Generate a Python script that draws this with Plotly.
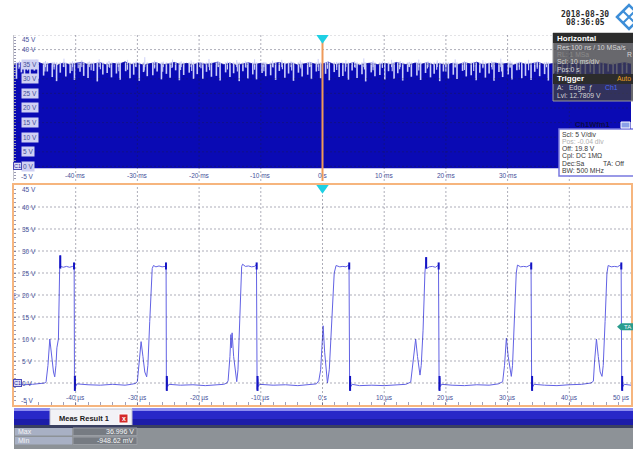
import plotly.graph_objects as go

W, H = 633, 449

# ---------------- data ----------------
# top panel (10 ms/div roll view): envelope top of the dense trace, 1 ms steps
top_env_t = list(range(-50, 51))
top_env_v = [
    35.0, 35.5, 34.7, 35.2, 35.6, 34.8, 35.3, 34.6, 35.4, 34.9,
    35.2, 35.7, 34.8, 35.1, 35.5, 34.7, 35.3, 35.0, 35.8, 34.9,
    35.4, 34.6, 35.2, 35.5, 34.8, 35.1, 35.6, 34.9, 35.3, 34.7,
    35.5, 35.0, 35.2, 35.7, 34.8, 35.4, 34.6, 35.1, 35.5, 34.9,
    35.3, 34.8, 35.2, 35.6, 35.0, 35.4, 34.7, 35.2, 35.5, 34.9,
    35.1, 35.7, 34.8, 35.3, 35.0, 35.5, 34.6, 35.2, 35.4, 34.8,
    35.3, 34.9, 35.6, 35.1, 34.7, 35.4, 35.0, 35.5, 34.8, 35.2,
    34.6, 35.3, 34.9, 35.5, 35.1, 35.7, 34.8, 35.2, 35.4, 35.0,
    35.3, 34.7, 35.5, 34.9, 35.2, 35.6, 34.8, 35.1, 35.4, 35.0,
    35.2, 35.5, 34.8, 35.3, 34.9, 35.4, 35.1, 34.7, 35.2, 35.5,
    35.0]
top_floor = -0.6

# deep light dips inside the dense envelope (ms, lowest V)
dip_t = [
    -49.6, -48.8, -48.3, -47.4, -46.7, -46.1, -45.2, -44.6, -43.8, -43.1,
    -42.5, -41.6, -40.9, -40.2, -39.3, -38.7, -38.0, -37.1, -36.5, -35.6,
    -34.9, -34.2, -33.4, -32.8, -31.9, -31.2, -30.6, -29.7, -29.0, -28.4,
    -27.5, -26.8, -26.1, -25.3, -24.7, -23.8, -23.2, -22.5, -21.6, -20.9,
    -20.3, -19.4, -18.8, -18.0, -17.2, -16.6, -15.7, -15.0, -14.4, -13.5,
    -12.9, -12.1, -11.3, -10.7, -9.8, -9.2, -8.4, -7.6, -7.0, -6.1,
    -5.5, -4.7, -3.9, -3.3, -2.4, -1.8, -1.0, -0.3, 0.5, 1.1,
    1.9, 2.7, 3.3, 4.2, 4.8, 5.6, 6.4, 7.0, 7.9, 8.5,
    9.3, 10.1, 10.7, 11.6, 12.2, 13.0, 13.8, 14.4, 15.3, 15.9,
    16.7, 17.5, 18.1, 19.0, 19.6, 20.4, 21.2, 21.8, 22.7, 23.3,
    24.1, 24.9, 25.5, 26.4, 27.0, 27.8, 28.6, 29.2, 30.1, 30.7,
    31.5, 32.3, 32.9, 33.8, 34.4, 35.2, 36.0, 36.6, 37.5, 38.1,
    38.9, 39.7, 40.3, 41.2, 41.8, 42.6, 43.4, 44.0, 44.9, 45.5,
    46.3, 47.1, 47.7, 48.6, 49.3]
dip_v = [
    30.0, 32.2, 29.4, 31.6, 32.8, 29.9, 31.1, 32.5, 30.6, 29.2,
    32.1, 30.8, 31.9, 29.6, 32.4, 31.0, 30.3, 32.7, 29.1, 31.5,
    32.0, 30.5, 31.8, 29.7, 32.6, 30.2, 31.4, 29.3, 32.3, 30.9,
    31.2, 32.5, 29.8, 31.7, 30.4, 32.9, 29.5, 31.3, 32.1, 30.0,
    31.6, 29.9, 32.4, 30.7, 31.0, 29.4, 32.2, 30.6, 31.9, 29.2,
    32.6, 30.1, 31.5, 29.8, 32.0, 30.9, 31.2, 29.6, 32.7, 30.4,
    31.8, 29.3, 32.1, 30.8, 31.4, 29.9, 32.5, 30.2, 31.7, 29.5,
    32.3, 30.6, 31.0, 29.7, 32.8, 30.3, 31.6, 29.1, 32.2, 30.9,
    31.3, 29.8, 32.6, 30.0, 31.9, 29.4, 32.4, 30.7, 31.1, 29.6,
    32.0, 30.5, 31.7, 29.2, 32.5, 30.1, 31.4, 29.9, 32.7, 30.8,
    31.2, 29.5, 32.1, 30.4, 31.8, 29.3, 32.3, 30.6, 31.5, 29.8,
    32.9, 30.2, 31.0, 29.6, 32.4, 30.9, 31.6, 29.4, 32.0, 30.3,
    31.9, 29.7, 32.6, 30.0, 31.3, 29.2, 32.2, 30.7, 31.8, 29.9,
    32.5, 30.4, 31.1, 29.6, 32.0]
# shallow light dips (ms, lowest V)
dip2_t = [
    -49.2, -47.8, -46.4, -45.0, -43.5, -42.0, -40.6, -39.6, -37.5, -36.0,
    -34.5, -33.0, -31.6, -30.3, -28.9, -27.2, -25.9, -24.4, -23.0, -21.2,
    -19.7, -18.3, -16.9, -15.4, -13.8, -12.4, -11.0, -9.5, -8.0, -6.5,
    -5.0, -3.5, -2.0, -0.6, 0.8, 2.3, 3.7, 5.3, 6.8, 8.2,
    9.7, 11.3, 12.5, 14.0, 15.6, 17.0, 18.5, 20.0, 21.5, 23.0,
    24.5, 26.0, 27.5, 29.0, 30.4, 31.9, 33.4, 34.8, 36.3, 37.8]
dip2_v = [
    33.4, 32.8, 33.9, 32.5, 33.2, 34.0, 32.7, 33.6, 32.9, 33.3,
    33.8, 32.6, 33.1, 34.1, 32.8, 33.5, 32.4, 33.7, 33.0, 32.7,
    33.6, 32.9, 34.0, 33.2, 32.5, 33.8, 33.1, 32.6, 33.9, 33.3,
    32.8, 33.5, 34.1, 32.7, 33.4, 33.0, 32.5, 33.8, 33.2, 32.9,
    33.7, 32.6, 33.3, 34.0, 32.8, 33.5, 33.1, 32.4, 33.9, 33.0,
    32.7, 33.6, 33.2, 32.5, 33.8, 33.1, 32.9, 33.4, 34.0, 32.6]
# light tips sticking out above the envelope (ms, highest V)
tip_t = [
    -49.1, -47.9, -46.4, -44.9, -43.5, -41.9, -40.5, -39.0, -37.8, -36.2,
    -34.6, -33.1, -31.6, -30.2, -28.8, -27.2, -25.8, -24.3, -22.9, -21.3,
    -19.9, -18.4, -16.9, -15.4, -13.9, -12.5, -11.0, -9.5, -8.1, -6.6,
    -5.1, -3.6, -2.1, -0.7, 0.8, 2.3, 3.8, 5.2, 6.7, 8.2,
    9.7, 11.2, 12.6, 14.1, 15.6, 17.1, 18.6, 20.0, 21.5, 23.0,
    24.5, 26.0, 27.4, 28.9, 30.4, 31.9, 33.4, 34.8, 36.3, 37.8]
tip_v = [
    36.2, 35.9, 36.6, 36.1, 35.8, 36.9, 36.0, 36.4, 35.9, 36.7,
    36.1, 35.8, 36.5, 36.0, 37.4, 36.2, 35.9, 36.6, 36.0, 36.3,
    35.8, 36.8, 36.1, 35.9, 36.4, 36.0, 36.7, 35.8, 36.2, 36.5,
    36.0, 36.3, 35.9, 36.8, 36.1, 35.8, 36.4, 36.0, 37.0, 36.2,
    35.9, 36.5, 36.1, 35.8, 36.6, 36.0, 36.3, 35.9, 36.7, 36.1,
    35.8, 36.4, 36.0, 36.9, 36.2, 35.9, 36.5, 36.1, 35.8, 36.3]
dip_top = 35.6

# bottom panel (10 us/div zoom): waveform vertices (us, V)
wave_t = [
    -50.0, -48.5, -47.0, -45.5, -45.0,
    -44.8, -44.5, -44.2, -43.9, -43.6, -43.4, -43.2, -43.05, -42.8, -42.6, -42.5, -42.45, -42.0, -41.5, -41.0, -40.5, -40.25,
    -40.2, -40.1, -40.0, -39.8, -38.0, -36.0, -34.0, -32.0, -31.0, -30.3,
    -30.0, -29.7, -29.4, -29.1, -28.8, -28.5, -28.3, -28.0, -27.6, -27.4, -27.0, -26.5, -26.0, -25.5, -25.35,
    -25.3, -25.2, -25.1, -24.9, -23.0, -21.0, -19.0, -17.0, -16.0, -15.5,
    -15.3, -15.0, -14.85, -14.75, -14.65, -14.4, -14.1, -13.9, -13.7, -13.4, -13.1, -12.95, -12.5, -12.0, -11.5, -11.0, -10.7,
    -10.6, -10.5, -10.4, -10.2, -8.0, -6.0, -4.0, -2.0, -1.0, -0.6,
    -0.3, -0.1, 0.1, 0.35, 0.6, 0.8, 1.1, 1.5, 1.9, 2.2, 2.8, 3.3, 3.8, 4.3,
    4.4, 4.5, 4.6, 4.8, 6.0, 8.0, 10.0, 12.0, 13.5, 14.3,
    14.6, 15.1, 15.4, 15.6, 15.8, 16.0, 16.3, 16.6, 16.8, 16.85, 17.3, 17.8, 18.3, 18.8,
    18.9, 19.0, 19.1, 19.3, 21.0, 23.0, 25.0, 27.0, 28.5, 29.2,
    29.5, 29.8, 30.1, 30.4, 30.6, 30.8, 31.1, 31.4, 31.6, 32.1, 32.6, 33.1, 33.8,
    33.9, 34.0, 34.1, 34.3, 36.0, 38.0, 40.0, 42.0, 43.5, 43.9,
    44.1, 44.4, 44.7, 45.0, 45.3, 45.5, 45.8, 46.1, 46.3, 46.8, 47.3, 47.8, 48.4,
    48.5, 48.6, 48.7, 48.9, 50.0]
wave_v = [
    -0.2, -0.4, -0.3, -0.2, 0.0,
    0.3, 4.0, 10.0, 6.0, 2.5, 1.4, 4.0, 8.0, 10.0, 26.0, 29.0, 26.5, 26.3, 26.5, 26.3, 26.5, 26.8,
    -1.5, 1.0, -0.8, -0.2, -0.4, -0.5, -0.3, -0.5, -0.3, -0.1,
    0.4, 5.0, 9.4, 6.0, 2.5, 1.4, 4.0, 14.0, 26.0, 26.7, 26.4, 26.6, 26.4, 26.5, 27.0,
    -1.5, 1.2, -0.8, -0.3, -0.5, -0.4, -0.6, -0.4, -0.3, 0.0,
    0.5, 6.0, 11.0, 8.0, 11.4, 6.0, 2.0, 0.3, 3.0, 14.0, 26.5, 27.0, 26.5, 26.6, 26.4, 26.5, 27.0,
    -1.5, 1.0, -0.8, -0.3, -0.5, -0.4, -0.6, -0.4, -0.2, 0.5,
    3.0, 8.0, 13.0, 7.0, 2.0, 0.0, 3.0, 14.0, 25.0, 26.7, 26.4, 26.5, 26.4, 26.8,
    -1.5, 1.2, -0.8, -0.3, -0.6, -0.5, -0.6, -0.4, -0.3, 0.2,
    4.0, 10.0, 6.0, 3.0, 1.8, 4.0, 12.0, 25.0, 28.6, 26.0, 26.4, 26.5, 26.3, 26.8,
    -1.5, 1.2, -0.8, -0.3, -0.5, -0.6, -0.4, -0.5, -0.2, 0.3,
    4.0, 10.2, 6.0, 2.5, 1.5, 4.0, 14.0, 25.0, 26.8, 26.4, 26.5, 26.4, 26.9,
    -1.5, 1.2, -0.8, -0.3, -0.5, -0.6, -0.4, -0.3, 0.0, 0.4,
    5.0, 10.0, 6.0, 2.5, 1.5, 4.0, 14.0, 25.0, 26.7, 26.4, 26.5, 26.4, 26.9,
    -1.5, 1.0, -0.8, -0.3, -0.5]
assert len(wave_t) == len(wave_v)
assert len(dip_t) == len(dip_v)
assert len(dip2_t) == len(dip2_v)
assert len(tip_t) == len(tip_v)

fall_t = [-40.2, -25.3, -10.6, 4.4, 18.9, 33.9, 48.5]
ring_hi = [25.8, 27.4]
ring_lo = [-1.8, 1.6]
start_spike_t = [-42.5, 16.8]
start_spike_v = [29.0, 28.6]

grid_x = [-40, -30, -20, -10, 0, 10, 20, 30, 40]
grid_y = [40, 35, 30, 25, 20, 15, 10, 5, 0]
top_x_ticks = [-40, -30, -20, -10, 0, 10, 20, 30]
top_x_labels = ["-40 ms", "-30 ms", "-20 ms", "-10 ms", "0 s", "10 ms", "20 ms", "30 ms"]
bot_x_ticks = [-40, -30, -20, -10, 0, 10, 20, 30, 40, 50]
bot_x_labels = ["-40 µs", "-30 µs", "-20 µs", "-10 µs", "0 s", "10 µs", "20 µs", "30 µs", "40 µs", "50 µs"]
y_ticks = [45, 40, 35, 30, 25, 20, 15, 10, 5, 0, -5]
y_labels = ["45 V", "40 V", "35 V", "30 V", "25 V", "20 V", "15 V", "10 V", "5 V", "0 V", "-5 V"]

meas_names = ["Max", "Min"]
meas_values = ["36.996 V", "-948.62 mV"]
trigger_level = 12.7809
ch_offset = 19.8
date_text = "2018-08-30"
time_text = "08:36:05"
horiz_lines = ["Res:100 ns / 10 MSa/s", "RL: 1 MSa", "Scl: 10 ms/div", "Pos:0 s"]
ch_lines = ["Scl: 5 V/div", "Pos: -0.04 div", "Off: 19.8 V", "Cpl: DC 1MΩ", "Dec:Sa", "BW: 500 MHz"]

# ---------------- helpers ----------------
def px(x):
    return x / W


def py(y):
    return 1 - y / H


BLUE = "#0a0ab4"
WAVE = "#6262e4"
DARK = "#1414c4"
LBL = "#46509a"
FONT = "Liberation Sans"
LIGHT = "rgba(205,208,248,1)"

fig = go.Figure()

# ---- top panel traces ----
fig.add_trace(go.Scatter(x=[-50, 50], y=[top_floor, top_floor], mode="lines",
                         line=dict(width=0, color=BLUE), xaxis="x", yaxis="y",
                         showlegend=False, hoverinfo="skip"))
fig.add_trace(go.Scatter(x=top_env_t, y=top_env_v, mode="lines",
                         line=dict(width=0.8, color=BLUE), fill="tonexty", fillcolor=BLUE,
                         xaxis="x", yaxis="y", showlegend=False, hoverinfo="skip"))


def segs(ts, lows, top):
    xs, ys = [], []
    for t, v in zip(ts, lows):
        xs += [t, t, None]
        ys += [top, v, None]
    return xs, ys


for ts, vs, top, wdt in ((dip2_t, dip2_v, dip_top, 1.1), (dip_t, dip_v, dip_top, 1.6),
                         (tip_t, tip_v, 34.0, 1.0)):
    xs, ys = segs(ts, vs, top)
    fig.add_trace(go.Scatter(x=xs, y=ys, mode="lines", line=dict(width=wdt, color=LIGHT),
                             xaxis="x", yaxis="y", showlegend=False, hoverinfo="skip"))

# ---- bottom panel traces ----
fig.add_trace(go.Scatter(x=wave_t, y=wave_v, mode="lines", line=dict(width=1.0, color=WAVE),
                         xaxis="x2", yaxis="y2", showlegend=False, hoverinfo="skip"))
rx, ry = [], []
for t in fall_t:
    rx += [t - 0.07, t - 0.07, None, t + 0.07, t + 0.07, None]
    ry += [ring_hi[0], ring_hi[1], None, ring_lo[0], ring_lo[1], None]
for t, v in zip(start_spike_t, start_spike_v):
    rx += [t, t, None]
    ry += [26.0, v, None]
fig.add_trace(go.Scatter(x=rx, y=ry, mode="lines", line=dict(width=2, color=DARK),
                         xaxis="x2", yaxis="y2", showlegend=False, hoverinfo="skip"))

# ---------------- shapes ----------------
shapes = []
GRID = dict(color="rgba(30,30,60,0.36)", width=1, dash="2px,2px")
for ax, ay in (("x", "y"), ("x2", "y2")):
    for gx in grid_x:
        shapes.append(dict(type="line", xref=ax, yref=ay, x0=gx, x1=gx, y0=-5, y1=45,
                           line=GRID, layer="above"))
    for gy in grid_y:
        shapes.append(dict(type="line", xref=ax, yref=ay, x0=-50, x1=50, y0=gy, y1=gy,
                           line=GRID, layer="above"))
shapes.append(dict(type="line", xref="x", yref="y", x0=-50, x1=50, y0=45, y1=45,
                   line=dict(color="rgba(30,30,60,0.25)", width=1, dash="2px,2px"), layer="above"))

# trigger position line (top) and trigger markers
shapes.append(dict(type="line", xref="x", yref="y", x0=0, x1=0, y0=-5, y1=44,
                   line=dict(color="#ee9a5a", width=2), layer="above"))
shapes.append(dict(type="path", xref="x", yref="y", path="M -1,45 L 1,45 L 0,42 Z",
                   fillcolor="#1ed0e4", line=dict(width=0), layer="above"))
shapes.append(dict(type="path", xref="x2", yref="y2", path="M -1,45 L 1,45 L 0,43 Z",
                   fillcolor="#1ed0e4", line=dict(width=0), layer="above"))

# trigger level tag (TA) on the right of the bottom panel
tl = trigger_level
shapes.append(dict(type="path", xref="paper", yref="y2",
                   path=f"M {px(617)},{tl} L {px(621)},{tl+0.8} L {px(634)},{tl+0.8} "
                        f"L {px(634)},{tl-0.8} L {px(621)},{tl-0.8} Z",
                   fillcolor="#2a9c8e", line=dict(width=0), layer="above"))


def rect(x0, y0, x1, y1, fill, line=None, lw=0):
    shapes.append(dict(type="rect", xref="paper", yref="paper",
                       x0=px(x0), x1=px(x1), y0=py(y1), y1=py(y0),
                       fillcolor=fill, line=dict(color=line or fill, width=lw), layer="above"))


# Horizontal / Trigger box
rect(553, 33, 640, 101, "rgba(62,62,68,0.78)", "#9a9a9a", 1)
rect(553, 33, 640, 43, "#2c2c2c")
rect(553, 74, 640, 84, "#2c2c2c")
# Ch1Wfm1 box
rect(559, 129, 640, 176, "#ffffff", "#7878e0", 1.5)
rect(621, 122, 630, 128, "#8aa0e8", "#ffffff", 1)

# R&S logo (diamond lattice)
lc = "#3d8ed8"
shapes.append(dict(type="path", xref="paper", yref="paper",
                   path=f"M {px(617)},{py(17)} L {px(629)},{py(5)} L {px(641)},{py(17)} L {px(629)},{py(29)} Z",
                   line=dict(color=lc, width=2.5), layer="above"))
shapes.append(dict(type="path", xref="paper", yref="paper",
                   path=f"M {px(623)},{py(11)} L {px(635)},{py(23)} M {px(623)},{py(23)} L {px(635)},{py(11)}",
                   line=dict(color=lc, width=2), layer="above"))

# bottom measurement bar
rect(14, 408, 50, 425, "#2828c8")
rect(14, 408, 50, 411, "#8c8cf0")
rect(132, 408, 640, 425, "#2828c8")
rect(132, 408, 640, 411, "#8c8cf0")
rect(14, 419, 50, 425, "#1c1ca8")
rect(132, 419, 640, 425, "#1c1ca8")
rect(50, 409, 132, 426, "#f2f2f6", "#c0c0d0", 1)
rect(14, 425, 640, 428, "#3a4060")
rect(14, 428, 640, 449, "#8d9297")
for i in range(len(meas_names)):
    y0 = 428 + i * 9
    rect(15, y0, 72, y0 + 7.5, "#a8b0c4")
    rect(73, y0, 137, y0 + 7.5, "#767b82", "#9a9ea4", 1)
rect(119, 414, 128, 423, "#d42a2a", "#ffffff", 1)

# ---------------- annotations ----------------
anns = []


def ann(text, x, y, xref="paper", yref="paper", size=7, color=LBL, xanchor="left",
        yanchor="middle", family=FONT, **kw):
    d = dict(text=text, x=x, y=y, xref=xref, yref=yref, showarrow=False,
             font=dict(size=size, color=color, family=family),
             xanchor=xanchor, yanchor=yanchor, borderpad=0)
    d.update(kw)
    anns.append(d)


# y tick labels
for yr, boxed in (("y", True), ("y2", False)):
    for v, lab in zip(y_ticks, y_labels):
        ya = "top" if v == 45 else ("bottom" if v == -5 else "middle")
        extra = {}
        if boxed and 0 <= v <= 35:
            extra = dict(bgcolor="#d0d1f3", borderpad=1)
        ann(lab, px(21) if v != -5 else px(20), v, yref=yr, size=6.5, yanchor=ya, **extra)
    ann("C1", px(13), 0, yref=yr, size=5.5, color="#2a2aa0", bgcolor="#dcdcf6",
        bordercolor="#4a4ab8", borderwidth=1, borderpad=0)

# x tick labels
for t, lab in zip(top_x_ticks, top_x_labels):
    ann(lab, t, -3.0, xref="x", yref="y", size=6.5, xanchor="center")
for t, lab in zip(bot_x_ticks, bot_x_labels):
    ann(lab, t, -3.3, xref="x2", yref="y2", size=6.5,
        xanchor="right" if t == 50 else "center")

# offset marker and trigger-level tag text
ann("▷", px(12.5), ch_offset, yref="y2", size=8, color="#6a74b8")
ann("TA", px(627), trigger_level, yref="y2", size=6, color="#ffffff", xanchor="center")

# date / time
ann("<b>" + date_text + "</b>", px(585), py(14), size=8, color="#2a2a2a", xanchor="center",
    family="DejaVu Sans Mono")
ann("<b>" + time_text + "</b>", px(585), py(22), size=8, color="#2a2a2a", xanchor="center",
    family="DejaVu Sans Mono")

# Horizontal box text
ann("<b>Horizontal</b>", px(556), py(38), size=8, color="#ffffff")
hy = [47, 54.5, 62, 69.5]
hc = ["#d6d6d6", "#8a8a8a", "#d6d6d6", "#d6d6d6"]
for s, yy, c in zip(horiz_lines, hy, hc):
    ann(s, px(556), py(yy), size=6.8, color=c)
ann("R", px(626), py(54.5), size=6.8, color="#d6d6d6")
ann("<b>Trigger</b>", px(556), py(79), size=8, color="#ffffff")
ann("Auto", px(616), py(79), size=6.8, color="#f0a020")
ann("A:   Edge  ƒ", px(556), py(88), size=6.8, color="#d6d6d6")
ann("Ch1", px(604), py(88), size=6.8, color="#4a6af0")
ann(f"Lvl: {trigger_level:.4f} V", px(556), py(96), size=6.8, color="#d6d6d6")

# Ch1Wfm1 box text
ann("<b>Ch1Wfm1</b>", px(592), py(125), size=7.5, color="#0a0a48", xanchor="center")
cy = [134, 141.3, 148.6, 155.9, 163.2, 170.5]
cc = ["#3a3a3a", "#b0b0b0", "#3a3a3a", "#3a3a3a", "#3a3a3a", "#3a3a3a"]
for s, yy, c in zip(ch_lines, cy, cc):
    ann(s, px(561), py(yy), size=6.8, color=c)
ann("TA: Off", px(602), py(163.2), size=6.8, color="#3a3a3a")

# measurement bar text
ann("<b>Meas Result 1</b>", px(84), py(418.5), size=7.5, color="#1a1a1a", xanchor="center")
ann("<b>x</b>", px(123.5), py(418.5), size=7, color="#ffffff", xanchor="center")
for i, (n, v) in enumerate(zip(meas_names, meas_values)):
    yy = 431.8 + i * 9
    ann(n, px(17), py(yy), size=7, color="#f4f4f4")
    ann(v, px(135), py(yy), size=7, color="#f4f4f4", xanchor="right")

# ---------------- layout ----------------
xdom = [px(14), px(631)]
common_x = dict(domain=xdom, range=[-50, 50], showgrid=False, zeroline=False,
                showticklabels=False, fixedrange=True)
common_y = dict(range=[-5, 45], showgrid=False, zeroline=False, showticklabels=False,
                fixedrange=True, ticks="inside", tickmode="linear", tick0=0, dtick=1,
                ticklen=2, tickcolor="#9a9ab4")
fig.update_layout(
    width=W, height=H, margin=dict(l=0, r=0, t=0, b=0),
    paper_bgcolor="white", plot_bgcolor="white", showlegend=False, hovermode=False,
    xaxis=dict(**common_x, anchor="y", showline=False, ticks=""),
    yaxis=dict(**common_y, domain=[py(181), py(35)], anchor="x", showline=True,
               linecolor="#c4c4cc", linewidth=1),
    xaxis2=dict(**common_x, anchor="y2", showline=True, mirror=True, linecolor="#f6b57e",
                linewidth=2, ticks="inside", tickmode="linear", tick0=0, dtick=2,
                ticklen=3, tickcolor="#a0a0b8"),
    yaxis2=dict(**common_y, domain=[py(405), py(185)], anchor="x2", showline=True,
                mirror=True, linecolor="#f6b57e", linewidth=2),
    shapes=shapes, annotations=anns,
)

fig.write_html(
    "out.html",
    config={"displayModeBar": False},
    post_script="document.body.style.margin='0';document.body.style.padding='0';"
                "document.body.style.overflow='hidden';",
)
